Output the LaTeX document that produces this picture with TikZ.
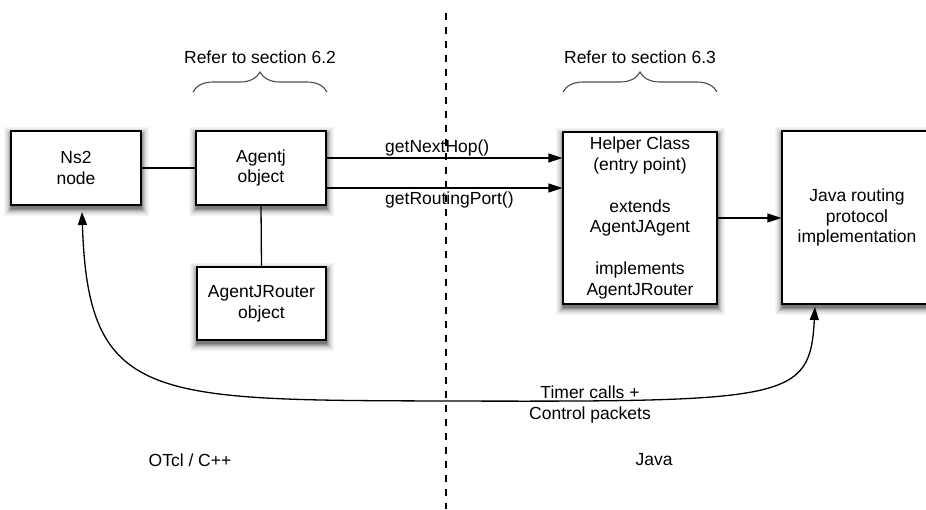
\documentclass[tikz,border=0pt]{standalone}
\usepackage{fontspec}
\setmainfont{Liberation Sans}
\usetikzlibrary{arrows.meta,decorations.pathreplacing}
\pgfdeclarelayer{shadowlayer}
\pgfsetlayers{shadowlayer,main}
\begin{document}
\begin{tikzpicture}[x=1pt,y=-1pt,
  txt/.style={font=\fontsize{17.5}{20.8}\selectfont, align=center, inner sep=0pt},
  box/.style={txt, draw=black, line width=1.3pt, fill=white},
  conn/.style={line width=1.3pt},
  arr/.style={conn, -{Triangle[length=14pt,width=9pt]}},
  bracestyle/.style={draw=black!70, line width=1.1pt, decorate, decoration={brace, amplitude=20pt}}
]
\useasboundingbox (0,0) rectangle (926,509);
% divider
\coordinate (dtop) at (446,13);
\coordinate (dbot) at (446,509);
\draw[conn, dash pattern=on 7pt off 7pt] (dtop) -- (dbot);
% boxes
\node[box, minimum width=130pt, minimum height=74pt] (ns2) at (76,168) {Ns2\\node};
\node[box, minimum width=130pt, minimum height=74pt] (agentj) at (261,168) {Agentj\\object};
\node[box, minimum width=129pt, minimum height=73pt] (router) at (261.5,303.5) {AgentJRouter\\object};
\node[box, minimum width=154pt, minimum height=172pt] (helper) at (640,218) {Helper Class\\(entry point)\\[20.8pt]extends\\AgentJAgent\\[20.8pt]implements\\AgentJRouter};
\node[box, minimum width=150pt, minimum height=173pt] (java) at (857,217.5) {Java routing\\protocol\\implementation};
% soft shadows (solid grey steps, lightest and widest first)
\begin{pgfonlayer}{shadowlayer}
\foreach \n in {ns2,agentj,router,helper,java}{
  \foreach \s/\c in {7/4,6/7,5/11,4/16,3/23,2/32,1/42,0/52}{
    \fill[black!\c] ([shift={(0.5-\s,3.5-\s)}]\n.north west) rectangle ([shift={(0.5+\s,3.5+\s)}]\n.south east);
  }
}
\end{pgfonlayer}
% connectors
\draw[conn] (ns2.east) -- (agentj.west);
\draw[conn] (agentj.south) -- (router.north);
\draw[arr] ([yshift=10pt]agentj.east) -- ([yshift=10pt]agentj.east -| helper.west);
\draw[arr] ([yshift=-20pt]agentj.east) -- ([yshift=-20pt]agentj.east -| helper.west);
\draw[arr] (helper.east) -- (helper.east -| java.west);
\node[txt, anchor=west] (l1) at (385,148) {getNextHop()};
\node[txt, anchor=west] (l2) at (385,200) {getRoutingPort()};
% braces
\coordinate (b1a) at (193,92);
\coordinate (b1b) at (327,92);
\coordinate (b2a) at (563,92);
\coordinate (b2b) at (717,92);
\draw[bracestyle] (b1a) -- (b1b);
\draw[bracestyle] (b2a) -- (b2b);
\node[txt] (r1) at (260,57) {Refer to section 6.2};
\node[txt] (r2) at (640,57) {Refer to section 6.3};
% curve
\coordinate (tA) at (82,212);
\coordinate (tM) at (446,401);
\coordinate (tB) at (815,307);
\draw[conn, {Triangle[length=13pt,width=9pt]}-{Triangle[length=13pt,width=9pt]}]
  (tA) .. controls (88,402) and (150,400) .. (tM)
       .. controls (790,402) and (810,400) .. (tB);
\node[txt] (timer) at (590,404.5) {Timer calls +\\Control packets};
% region labels
\node[txt] (otcl) at (190,460) {OTcl / C++};
\node[txt] (javal) at (654,460) {Java};
\end{tikzpicture}
\end{document}
